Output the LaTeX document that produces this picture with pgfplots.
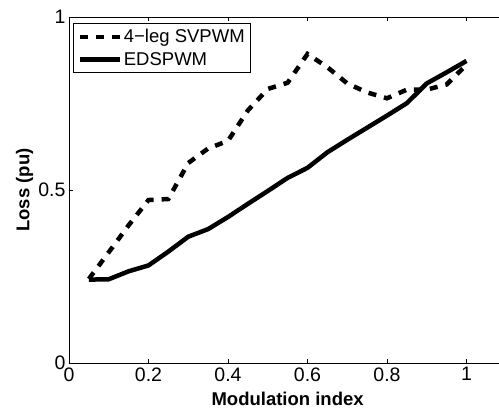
\documentclass[border=0pt]{standalone}
\usepackage{pgfplots}
\pgfplotsset{compat=1.18}
\usepackage{fontspec}
\setmainfont{Liberation Sans}
\begin{document}
\begin{tikzpicture}
\begin{axis}[
  name=ax,
  scale only axis,
  width=430bp, height=346bp,
  xmin=0, xmax=1.0818, ymin=0, ymax=1,
  axis x line=box, axis y line*=left,
  axis line style={-, line width=0.8bp},
  tick align=inside,
  major tick length=4bp,
  tick style={line width=0.8bp, black},
  xtick={0,0.2,0.4,0.6,0.8,1},
  ytick={0,0.5,1},
  xticklabels={0,0.2,0.4,0.6,0.8,1},
  yticklabels={0,0.5,1},
  ticklabel style={font=\fontsize{19.5bp}{21bp}\selectfont},
  xticklabel style={yshift=-1bp},
  yticklabel style={xshift=0bp},
  /pgf/number format/assume math mode=true,
  xlabel={\textbf{Modulation index}},
  ylabel={\textbf{Loss (pu)}},
  xlabel style={font=\fontsize{18.5bp}{20bp}\selectfont, at={(axis cs:0.55,0)}, anchor=base, yshift=-42bp},
  ylabel style={font=\fontsize{18.5bp}{20bp}\selectfont, at={(axis description cs:-0.103,0.5)}, anchor=center},
  legend style={at={(0,1)}, anchor=north west, xshift=4bp, yshift=-6bp,
    draw=black, line width=0.8bp, font=\fontsize{18.5bp}{22bp}\selectfont,
    inner xsep=4bp, inner ysep=4bp, row sep=4bp,
    legend cell align=left},
  legend image code/.code={\draw[#1] (0bp,0bp) -- (40bp,0bp);},
  every axis plot/.append style={line width=4.5bp, black},
  clip=false,
]
\addplot[dash pattern=on 8bp off 8bp, line cap=butt, line join=miter] coordinates {
(0.05,0.243) (0.10,0.320) (0.15,0.398) (0.20,0.471) (0.25,0.474)
(0.30,0.578) (0.35,0.620) (0.40,0.642) (0.45,0.730) (0.50,0.792)
(0.55,0.810) (0.60,0.893) (0.65,0.855) (0.70,0.808) (0.75,0.782)
(0.80,0.765) (0.85,0.790) (0.90,0.790) (0.95,0.805) (1.00,0.862)
};
\addlegendentry{4−leg SVPWM}
\addplot[line join=round] coordinates {
(0.05,0.241) (0.10,0.242) (0.15,0.265) (0.20,0.282) (0.25,0.322)
(0.30,0.365) (0.35,0.387) (0.40,0.422) (0.45,0.460) (0.50,0.497)
(0.55,0.535) (0.60,0.564) (0.65,0.609) (0.70,0.645) (0.75,0.680)
(0.80,0.715) (0.85,0.751) (0.90,0.808) (0.95,0.840) (1.00,0.873)
};
\addlegendentry{EDSPWM}
\end{axis}
\pgfresetboundingbox
\path ([shift={(-69bp,-45bp)}]ax.south west) rectangle ([shift={(0bp,17bp)}]ax.north east);
\end{tikzpicture}
\end{document}
